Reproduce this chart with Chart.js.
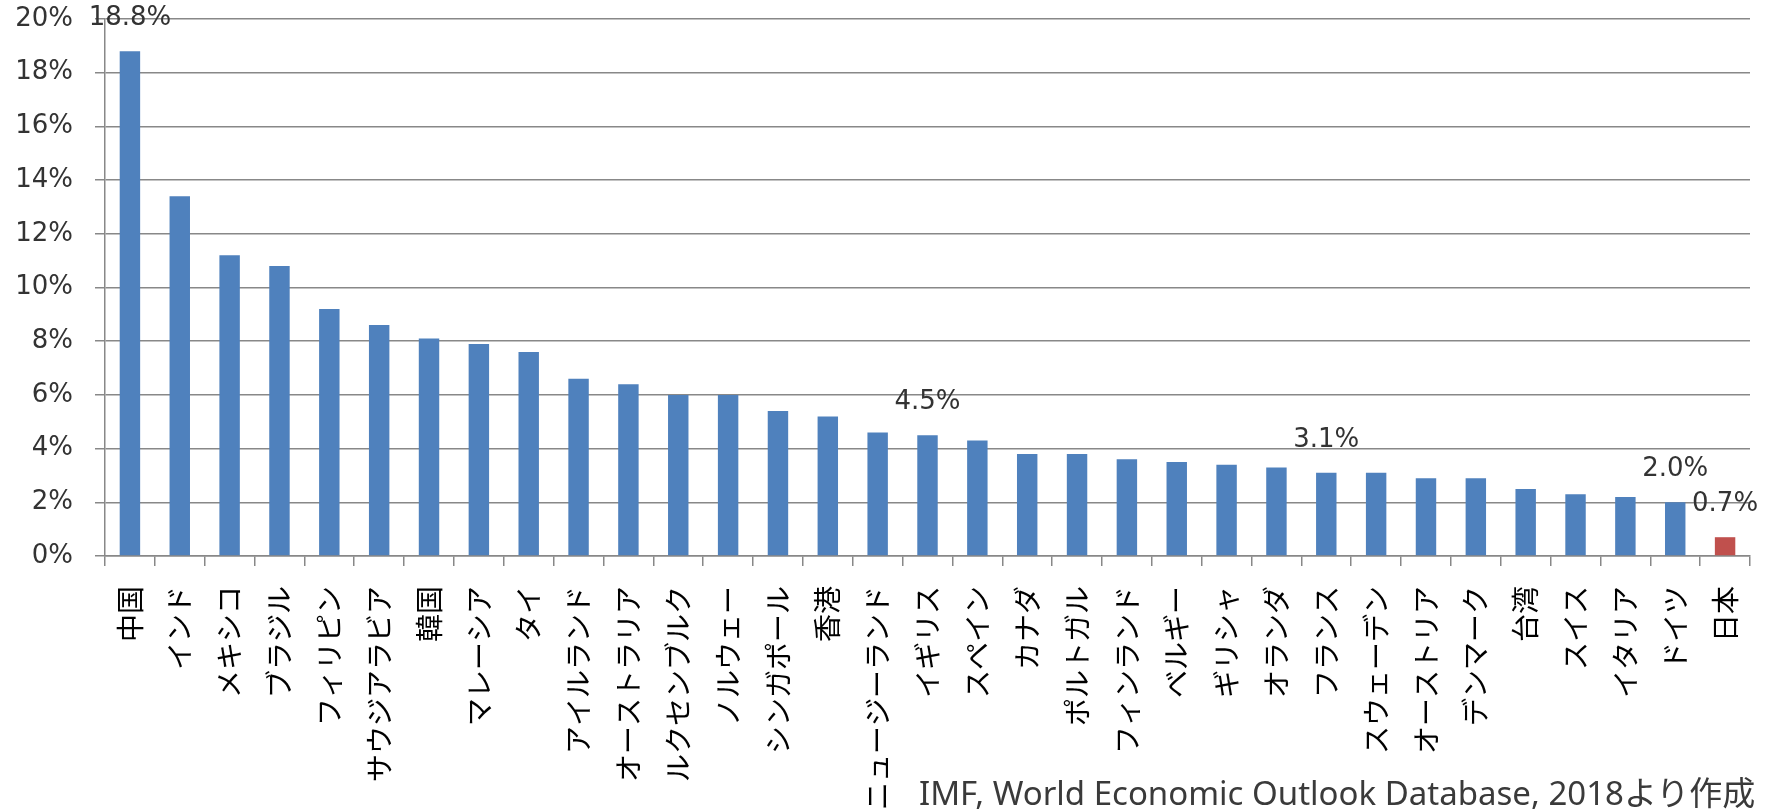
<!DOCTYPE html>
<html>
<head>
<meta charset="utf-8">
<script src="https://cdn.jsdelivr.net/npm/chart.js@4.4.1/dist/chart.umd.min.js"></script>
<style>
  body { margin: 0; background: #fff; }
  #wrap { position: relative; width: 1773px; height: 811px; }
  #source {
    position: absolute; left: 919px; top: 767px;
    font: 33px "Noto Sans", "Noto Sans CJK JP", sans-serif;
    color: #3a3a3a; white-space: nowrap;
  }
</style>
</head>
<body>
<div id="wrap">
  <canvas id="chart" width="1773" height="811"></canvas>
  <div id="source">IMF, World Economic Outlook Database, 2018より作成</div>
</div>
<script>
// 国名（横軸）
const countries = [
  "中国", "インド", "メキシコ", "ブラジル", "フィリピン", "サウジアラビア", "韓国",
  "マレーシア", "タイ", "アイルランド", "オーストラリア", "ルクセンブルク", "ノルウェー",
  "シンガポール", "香港", "ニュージーランド", "イギリス", "スペイン", "カナダ", "ポルトガル",
  "フィンランド", "ベルギー", "ギリシャ", "オランダ", "フランス", "スウェーデン",
  "オーストリア", "デンマーク", "台湾", "スイス", "イタリア", "ドイツ", "日本"
];
// 値（%）
const values = [
  18.8, 13.4, 11.2, 10.8, 9.2, 8.6, 8.1,
  7.9, 7.6, 6.6, 6.4, 6.0, 6.0,
  5.4, 5.2, 4.6, 4.5, 4.3, 3.8, 3.8,
  3.6, 3.5, 3.4, 3.3, 3.1, 3.1,
  2.9, 2.9, 2.5, 2.3, 2.2, 2.0, 0.7
];
// 数値ラベルを付ける国
const labelled = ["中国", "イギリス", "フランス", "ドイツ", "日本"];
// 縦軸の目盛
const yMin = 0, yMax = 20, yStep = 2;

const barColors = countries.map(c => c === "日本" ? "#C0504D" : "#4F81BD");

// バーの上に値を表示
const valueLabels = {
  id: "valueLabels",
  afterDatasetsDraw(chart) {
    const ctx = chart.ctx;
    const meta = chart.getDatasetMeta(0);
    ctx.save();
    ctx.font = '26px "DejaVu Sans"';
    ctx.fillStyle = "#333";
    ctx.textAlign = "center";
    ctx.textBaseline = "middle";
    meta.data.forEach((bar, i) => {
      if (!labelled.includes(countries[i])) return;
      ctx.fillText(values[i].toFixed(1) + "%", bar.x, bar.y - 33);
    });
    ctx.restore();
  }
};

const ctx = document.getElementById("chart").getContext("2d");
new Chart(ctx, {
  type: "bar",
  data: {
    labels: countries,
    datasets: [{
      data: values,
      backgroundColor: barColors,
      categoryPercentage: 1,
      barPercentage: 0.41
    }]
  },
  options: {
    responsive: false,
    animation: false,
    layout: { padding: { top: 19, right: 23, left: 0, bottom: 0 } },
    plugins: { legend: { display: false }, tooltip: { enabled: false } },
    scales: {
      x: {
        grid: { drawOnChartArea: false, tickLength: 10, color: "#888", lineWidth: 1.5 },
        border: { color: "#888", width: 1.5 },
        ticks: {
          minRotation: 90, maxRotation: 90, autoSkip: false, padding: 20,
          color: "#000", font: { family: '"Noto Sans CJK JP"', size: 28 }
        },
        afterFit(scale) { scale.height = 255; scale.paddingLeft = 0; scale.paddingRight = 0; }
      },
      y: {
        min: yMin, max: yMax,
        grid: { color: "#888", lineWidth: 1.5, tickLength: 10 },
        border: { color: "#888", width: 1.5 },
        ticks: {
          stepSize: yStep, padding: 22, color: "#333",
          font: { family: '"DejaVu Sans"', size: 26 },
          callback: v => v + "%"
        },
        afterFit(scale) { scale.width = 105; scale.paddingTop = 0; scale.paddingBottom = 0; }
      }
    }
  },
  plugins: [valueLabels]
});
</script>
</body>
</html>
